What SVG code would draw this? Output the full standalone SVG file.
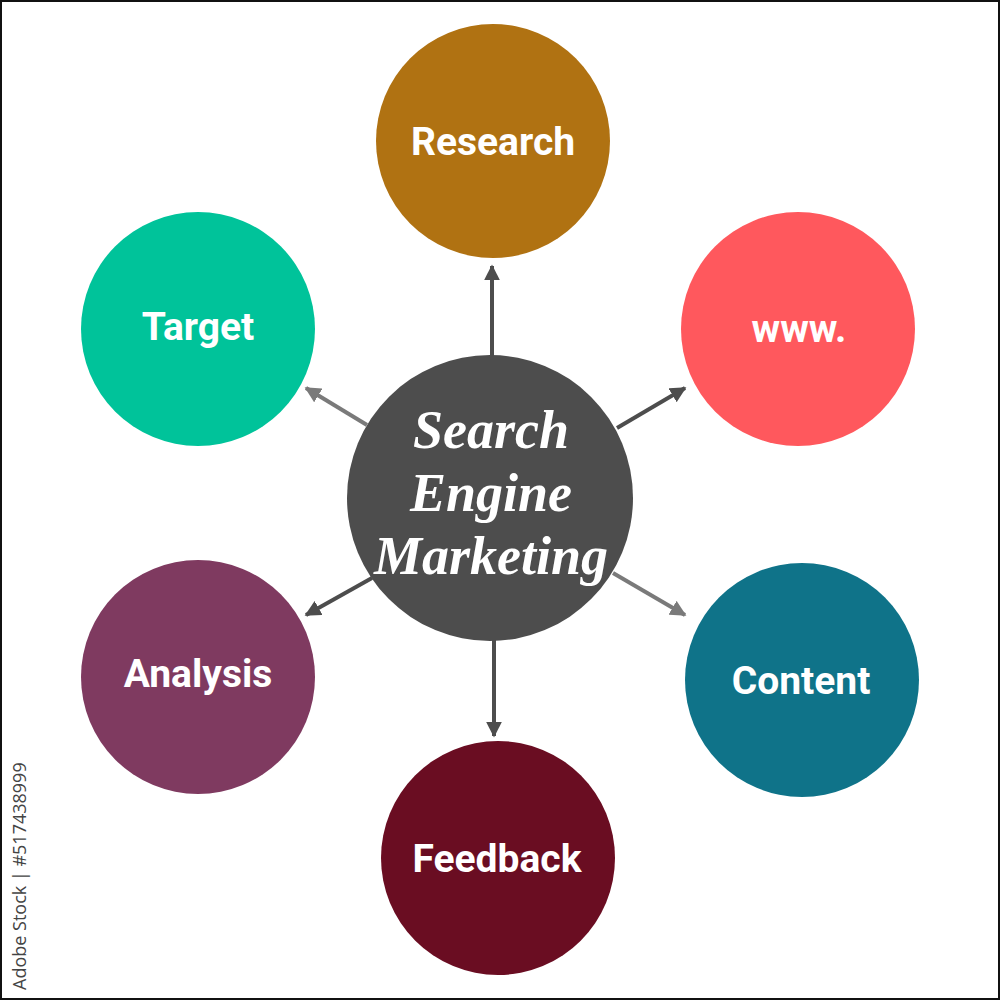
<svg xmlns="http://www.w3.org/2000/svg" width="1000" height="1000" viewBox="0 0 1000 1000">
<defs>
<style>
.lbl{font-family:Roboto,"Liberation Sans",sans-serif;font-weight:bold;font-size:39px;fill:#fff;text-anchor:middle}
.ctr{font-family:"Liberation Serif","DejaVu Serif",serif;font-weight:bold;font-style:italic;font-size:54px;fill:#fff;text-anchor:middle}
.dk{stroke:#4d4d4d;stroke-width:4;fill:none}
.lt{stroke:#7a7a7a;stroke-width:4;fill:none}
</style>
<marker id="ad" viewBox="0 0 10 10" refX="9" refY="5" markerWidth="4" markerHeight="4" orient="auto" markerUnits="strokeWidth"><path d="M0,0 L10,5 L0,10 z" fill="#4d4d4d"/></marker>
<marker id="al" viewBox="0 0 10 10" refX="9" refY="5" markerWidth="4" markerHeight="4" orient="auto" markerUnits="strokeWidth"><path d="M0,0 L10,5 L0,10 z" fill="#7a7a7a"/></marker>
</defs>
<rect x="1" y="1" width="998" height="998" fill="#fff" stroke="#111" stroke-width="2"/>
<g id="connectors">
<line class="dk" x1="492" y1="356" x2="492" y2="266" marker-end="url(#ad)"/>
<line class="dk" x1="494" y1="640" x2="494" y2="736" marker-end="url(#ad)"/>
<line class="dk" x1="617" y1="428" x2="685" y2="388" marker-end="url(#ad)"/>
<line class="lt" x1="367" y1="425" x2="306" y2="388" marker-end="url(#al)"/>
<line class="dk" x1="372" y1="578" x2="306" y2="615" marker-end="url(#ad)"/>
<line class="lt" x1="613" y1="573" x2="685" y2="615" marker-end="url(#al)"/>
</g>
<g id="research"><circle cx="493" cy="141" r="117" fill="#b07212"/><text class="lbl" x="493" y="155">Research</text></g>
<g id="www"><circle cx="798" cy="329" r="117" fill="#ff585d"/><text class="lbl" x="799" y="342">www.</text></g>
<g id="target"><circle cx="198" cy="329" r="117" fill="#00c39a"/><text class="lbl" x="198" y="340">Target</text></g>
<g id="analysis"><circle cx="198" cy="677" r="117" fill="#7f3a60"/><text class="lbl" x="198" y="687">Analysis</text></g>
<g id="content"><circle cx="802" cy="680" r="117" fill="#0f7389"/><text class="lbl" x="801" y="694">Content</text></g>
<g id="feedback"><circle cx="498" cy="858" r="117" fill="#6a0d22"/><text class="lbl" x="497" y="872">Feedback</text></g>
<g id="center"><circle cx="490" cy="498" r="143" fill="#4d4d4d"/>
<text class="ctr" x="491" y="448">Search</text>
<text class="ctr" x="491" y="511">Engine</text>
<text class="ctr" x="491" y="574">Marketing</text></g>
<text x="0" y="0" transform="translate(26,990) rotate(-90)" font-family="'Open Sans','DejaVu Sans',sans-serif" font-size="18" fill="#444">Adobe Stock | #517438999</text>
</svg>
